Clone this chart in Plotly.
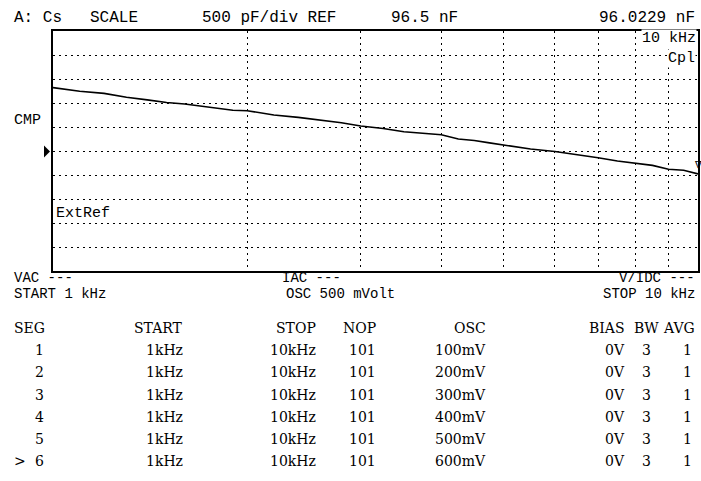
import math
import plotly.graph_objects as go

# ---- Sweep trace: series capacitance Cs (nF) vs frequency (kHz) ----
freq_khz = [1.0, 1.1, 1.2, 1.3, 1.4, 1.5, 1.6, 1.7, 1.8, 1.9, 2.0, 2.2, 2.4, 2.6,
            2.8, 3.0, 3.25, 3.5, 3.75, 4.0, 4.25, 4.5, 4.75, 5.0, 5.5, 6.0, 6.5,
            7.0, 7.5, 8.0, 8.5, 9.0, 9.5, 10.0]
cs_nf = [97.82, 97.745, 97.70, 97.62, 97.565, 97.51, 97.48, 97.43, 97.38, 97.35,
         97.34, 97.25, 97.20, 97.14, 97.09, 97.02, 96.97, 96.90, 96.87, 96.84,
         96.75, 96.72, 96.67, 96.62, 96.54, 96.49, 96.43, 96.36, 96.29, 96.25,
         96.20, 96.12, 96.10, 96.0229]

ref_nf = 96.5
scale_pf_per_div = 500
n_div = 10
grid_freqs_khz = [2, 3, 4, 5, 6, 7, 8, 9]
start_khz = 1
stop_khz = 10
osc_mv = 500

# ---- Segment list table ----
seg_no = [1, 2, 3, 4, 5, 6]
seg_start = ["1kHz", "1kHz", "1kHz", "1kHz", "1kHz", "1kHz"]
seg_stop = ["10kHz", "10kHz", "10kHz", "10kHz", "10kHz", "10kHz"]
seg_nop = [101, 101, 101, 101, 101, 101]
seg_osc = ["100mV", "200mV", "300mV", "400mV", "500mV", "600mV"]
seg_bias = ["0V", "0V", "0V", "0V", "0V", "0V"]
seg_bw = [3, 3, 3, 3, 3, 3]
seg_avg = [1, 1, 1, 1, 1, 1]
active_seg = 6

# ---- page geometry ----
W, H = 701, 481
ML, MR, MT, MB = 53, 1, 31, 210
PW, PH = W - ML - MR, H - MT - MB

MONO = "Liberation Mono"
SERIF = "DejaVu Serif"


def px(x):
    return (x - ML) / PW


def py(y):
    return (H - MB - y) / PH


half = n_div / 2 * scale_pf_per_div / 1000.0
y_lo, y_hi = ref_nf - half, ref_nf + half

fig = go.Figure()
fig.add_trace(go.Scatter(
    x=freq_khz, y=cs_nf, mode="lines",
    line=dict(color="black", width=1.6),
    hoverinfo="skip", showlegend=False,
))

annotations = []


def label(text, x, y, anchor="left", size=15.5, family=MONO, bg=None):
    a = dict(text=text, x=px(x), y=py(y), xref="paper", yref="paper",
             xanchor=anchor, yanchor="middle", showarrow=False,
             font=dict(family=family, size=size, color="black"), borderpad=0)
    if bg:
        a["bgcolor"] = bg
    annotations.append(a)


# header line
label("A: Cs", 13, 18, size=16)
label("SCALE", 89, 18, size=16)
label(f"{scale_pf_per_div} pF/div REF", 201, 18, size=16)
label(f"{ref_nf} nF", 391, 18, size=16)
label(f"{cs_nf[-1]:.4f} nF", 698, 18, anchor="right", size=16)

# inside the graticule
label(f"{stop_khz} kHz", 699, 38, anchor="right", size=15, bg="white")
label("Cpl", 698, 58, anchor="right", size=15, bg="white")
label("ExtRef", 55, 213, size=15, bg="white")
label("CMP", 13, 120, size=15)

# below the graticule
BS = 14
label("VAC ---", 13, 277.5, size=BS)
label(f"START {start_khz} kHz", 13, 293.5, size=BS)
label("IAC ---", 282, 277.5, size=BS)
label(f"OSC {osc_mv} mVolt", 286, 293.5, size=BS)
label("V/IDC ---", 698, 277.5, anchor="right", size=BS)
label(f"STOP {stop_khz} kHz", 698, 293.5, anchor="right", size=BS)

# marker glyph on the last sweep point
annotations.append(dict(
    text="\u2207", x=math.log10(freq_khz[-1]), y=cs_nf[-1], xref="x", yref="y",
    xanchor="center", yanchor="bottom", showarrow=False, yshift=3,
    font=dict(family="DejaVu Sans", size=10, color="black"), borderpad=0,
))

# segment table
TS = 14
row_y0, row_dy = 328, 22.2
label("SEG", 13, row_y0, size=TS, family=SERIF)
label("START", 184, row_y0, anchor="right", size=TS, family=SERIF)
label("STOP", 318, row_y0, anchor="right", size=TS, family=SERIF)
label("NOP", 378, row_y0, anchor="right", size=TS, family=SERIF)
label("OSC", 488, row_y0, anchor="right", size=TS, family=SERIF)
label("BIAS", 628, row_y0, anchor="right", size=TS, family=SERIF)
label("BW", 648, row_y0, anchor="center", size=TS, family=SERIF)
label("AVG", 698, row_y0, anchor="right", size=TS, family=SERIF)
for i in range(len(seg_no)):
    yy = row_y0 + row_dy * (i + 1)
    if seg_no[i] == active_seg:
        label(">", 13, yy, size=TS, family=SERIF)
    label(str(seg_no[i]), 39, yy, anchor="center", size=TS, family=SERIF)
    label(seg_start[i], 184, yy, anchor="right", size=TS, family=SERIF)
    label(seg_stop[i], 318, yy, anchor="right", size=TS, family=SERIF)
    label(str(seg_nop[i]), 378, yy, anchor="right", size=TS, family=SERIF)
    label(seg_osc[i], 488, yy, anchor="right", size=TS, family=SERIF)
    label(seg_bias[i], 628, yy, anchor="right", size=TS, family=SERIF)
    label(str(seg_bw[i]), 648, yy, anchor="center", size=TS, family=SERIF)
    label(str(seg_avg[i]), 695, yy, anchor="right", size=TS, family=SERIF)

# reference-position pointer on the left edge
shapes = [dict(
    type="path", xref="paper", yref="paper",
    xsizemode="pixel", ysizemode="pixel", xanchor=0, yanchor=py(151.4),
    path="M -9,6 L -3,0 L -9,-6 Z",
    fillcolor="black", line=dict(color="black", width=0),
)]

axis_common = dict(
    showline=True, mirror=True, linecolor="black", linewidth=2,
    showgrid=True, gridcolor="black", gridwidth=1, griddash="1.5px,4.5px",
    ticks="", showticklabels=False, zeroline=False, fixedrange=True,
)

fig.update_layout(
    width=W, height=H,
    margin=dict(l=ML, r=MR, t=MT, b=MB, pad=0),
    paper_bgcolor="white", plot_bgcolor="white",
    xaxis=dict(type="log", range=[math.log10(start_khz), math.log10(stop_khz)],
               tickmode="array", tickvals=grid_freqs_khz, **axis_common),
    yaxis=dict(range=[y_lo, y_hi], tick0=y_lo,
               dtick=scale_pf_per_div / 1000.0, **axis_common),
    annotations=annotations,
    shapes=shapes,
    showlegend=False,
)

fig.write_html("out.html")
